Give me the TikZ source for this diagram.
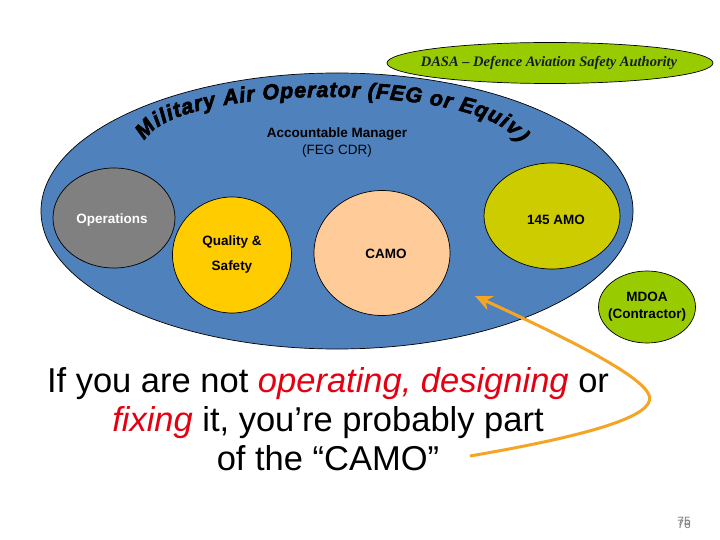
\documentclass[tikz,border=0pt]{standalone}
\usepackage{fontspec}
\setmainfont{Liberation Sans}
\newfontfamily\dasafont{Liberation Serif}
\newfontfamily\heavyfont[FakeBold=3]{Liberation Sans}
\usetikzlibrary{shapes.geometric,arrows.meta,decorations.text}
\definecolor{operblue}{RGB}{79,129,189}
\definecolor{dasagreen}{RGB}{153,204,0}
\definecolor{amoolive}{RGB}{204,204,0}
\definecolor{qsyellow}{RGB}{255,204,0}
\definecolor{camopeach}{RGB}{255,204,153}
\definecolor{opsgray}{RGB}{128,128,128}
\definecolor{warnred}{RGB}{228,0,18}
\definecolor{arroworange}{RGB}{245,165,35}
\definecolor{dasaink}{RGB}{20,30,40}

\begin{document}
\begin{tikzpicture}[x=1pt, y=-1pt,
oval/.style={ellipse, draw=black, line width=0.7pt, inner sep=0pt},
lbl/.style={font=\fontsize{13.5}{16}\selectfont\bfseries, text=black, align=center},
pointer/.style={draw=arroworange, line width=3pt, -{Stealth[length=17pt, width=15pt]}},
]
  \useasboundingbox[fill=white] (0,0) rectangle (720,540);

  % the operator and its parts
  \node (operator) [oval, fill=operblue, minimum width=592, minimum height=276] at (337,211) {};
  \node (dasa) [oval, fill=dasagreen, minimum width=326, minimum height=41] at (550,63) {};
  \node (ops) [oval, fill=opsgray, minimum width=122, minimum height=100] at (114,218) {};
  \node (quality) [oval, fill=qsyellow, minimum width=119, minimum height=116] at (232,255) {};
  \node (camo) [oval, fill=camopeach, minimum width=136, minimum height=125] at (382,253) {};
  \node (amo) [oval, fill=amoolive, minimum width=136, minimum height=106] at (552,216) {};
  \node (mdoa) [oval, fill=dasagreen, minimum width=97, minimum height=72] at (647,307) {};

  % texts
  \node (dasaText) [font=\dasafont\bfseries\itshape\fontsize{14.5}{16}\selectfont, text=dasaink] at (549,63) {DASA – Defence Aviation Safety Authority};
  \path[decorate, decoration={text along path,
      text={|\heavyfont\bfseries\itshape\fontsize{21.5}{21.5}\selectfont|Military Air Operator (FEG or Equiv)},
      text align={fit to path}}]
    (145,141) .. controls (172,82) and (488,82) .. (518,143);
  \node (manager) [lbl] at (337,134) {Accountable Manager};
  \node (feg) [lbl, font=\fontsize{13.5}{16}\selectfont] at (337,151) {(FEG CDR)};
  \node (opsText) [lbl, text=white] at (112,220) {Operations};
  \node (qualityText) [lbl, font=\fontsize{13.5}{25}\selectfont\bfseries] at (232,255) {Quality \&\\Safety};
  \node (camoText) [lbl] at (386,254) {CAMO};
  \node (amoText) [lbl] at (556,220) {145 AMO};
  \node (mdoaText) [lbl, font=\fontsize{13.5}{17}\selectfont\bfseries] at (647,307) {MDOA\\(Contractor)};

  \node (note) [font=\fontsize{34.5}{39}\selectfont, align=center] at (328,419)
    {If you are not \textcolor{warnred}{\itshape operating, designing} or\\
     \textcolor{warnred}{\itshape fixing} it, you’re probably part\\
     of the “CAMO”};

  \node (pageA) [font=\fontsize{12}{12}\selectfont, text=gray] at (684,521) {75};
  \node (pageB) [font=\fontsize{12}{12}\selectfont, text=gray] at (684,524) {76};

  % arrow back to the CAMO
  \coordinate (tail) at (470,456);
  \coordinate (tip) at (475,296);
  \draw[pointer] (tail) .. controls (610,432) and (660,412) .. (648,393)
    .. controls (636,372) and (560,335) .. (tip);
\end{tikzpicture}
\end{document}
